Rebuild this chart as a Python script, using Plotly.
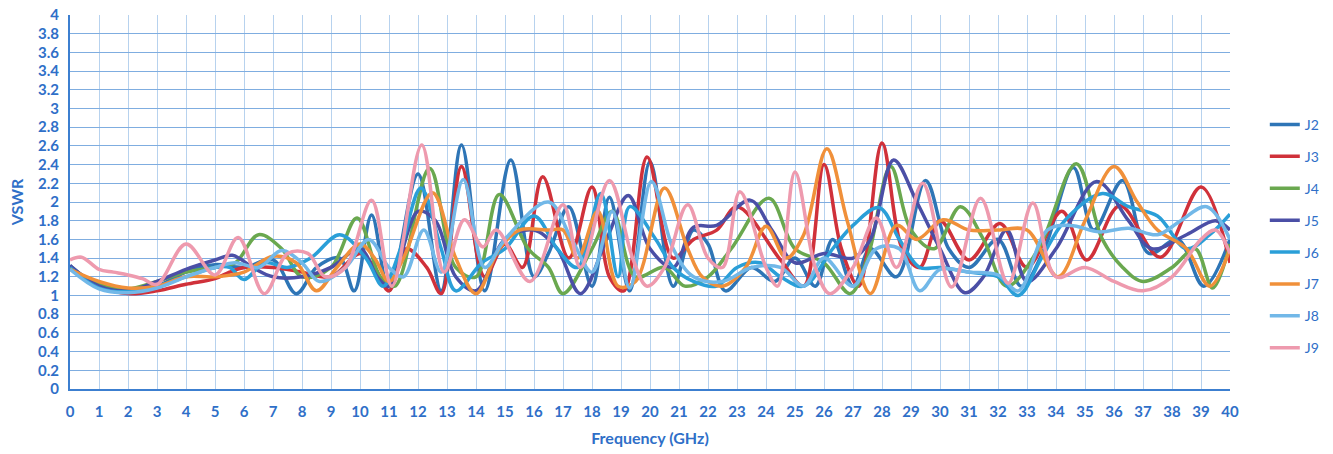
import plotly.graph_objects as go

# ---- data: (frequency GHz, VSWR) key points ----
J2_f = [0,1,2,3,4,5,6,7,7.8,8.5,9.3,9.8,10.4,11,12.0,12.8,13.5,14.3,15.2,16,16.5,17.2,18,18.6,19.3,20.0,20.8,21.5,22,22.6,23.5,24.3,25,25.7,26.3,27,27.6,28.5,29.5,30.3,31,32,32.8,33.6,34.6,35.3,36.3,37.2,38.2,39.1,40]
J2_v = [1.32,1.1,1.03,1.1,1.25,1.33,1.3,1.38,1.02,1.3,1.4,1.05,1.86,1.05,2.3,1.05,2.61,1.05,2.45,1.2,1.45,1.95,1.1,2.05,1.05,2.43,1.1,1.7,1.55,1.05,1.3,1.15,1.4,1.1,1.6,1.1,1.5,1.2,2.23,1.5,1.3,1.6,1.1,1.5,2.37,1.7,2.23,1.45,1.6,1.1,1.6]

J3_f = [0,1,2,3,4,5,5.5,6,7,8,9,10,10.5,11,11.6,12.3,12.8,13.5,14.3,15,15.6,16.3,17.2,18.0,18.6,19.1,19.9,20.8,21.5,22.3,23.0,24.5,25.3,26.0,26.6,27.2,28.0,28.7,29.3,30,31,32.07,33,34.2,35.06,36.2,37.6,39.0,40]
J3_v = [1.3,1.1,1.02,1.05,1.12,1.18,1.25,1.3,1.3,1.25,1.2,1.45,1.3,1.05,1.5,1.3,1.02,2.38,1.2,1.55,1.3,2.27,1.4,2.16,1.2,1.05,2.48,1.4,1.6,1.7,1.95,1.38,1.1,2.4,1.5,1.1,2.63,1.5,1.3,1.8,1.38,1.77,1.3,1.9,1.38,1.96,1.41,2.16,1.35]

J4_f = [0,1,2,3,4,5,5.7,6.5,7.3,8,9,9.9,10.7,11.2,12.4,13.3,14,14.8,15.8,16.5,17,18,18.7,19.5,20.5,21.2,22,22.8,24.1,25,26,26.9,27.5,28.3,29,29.8,30.7,31.5,32.3,33.4,34.7,35.6,36.3,37,38,38.8,39.4,40]
J4_v = [1.3,1.12,1.07,1.15,1.25,1.3,1.35,1.65,1.5,1.2,1.3,1.83,1.2,1.1,2.36,1.3,1.2,2.08,1.5,1.3,1.02,1.5,1.9,1.2,1.3,1.1,1.2,1.5,2.04,1.5,1.35,1.02,1.4,2.38,1.7,1.5,1.95,1.6,1.1,1.5,2.41,1.6,1.3,1.15,1.3,1.5,1.08,1.55]

J5_f = [0,1,2,3,4,5,5.6,6.3,7,8,9,10,10.6,11,12,12.6,13.3,14,15,16,16.8,17.6,18.5,19.25,20,20.8,21.5,22.3,23.45,24.2,25,26,27,27.6,28.4,29.2,30,30.86,31.5,32.3,33,34,35.4,36.5,37.3,38.5,39.5,40]
J5_v = [1.32,1.1,1.05,1.15,1.28,1.38,1.43,1.3,1.2,1.2,1.3,1.5,1.2,1.1,1.9,1.8,1.2,1.05,1.6,1.7,1.5,1.02,1.6,2.07,1.5,1.3,1.73,1.75,2.02,1.7,1.35,1.45,1.4,1.6,2.45,2.0,1.5,1.03,1.2,1.7,1.15,1.5,2.22,1.8,1.5,1.65,1.8,1.7]

J6_f = [0,1,2,3,4,5,5.5,6,6.7,7.5,8.3,9.3,10.2,10.8,11.4,12.1,12.8,13.3,14.2,15,16,16.8,17.5,18.3,18.9,19.3,20.2,20.8,21.5,22.3,23,23.8,24.5,25.3,26.3,27,27.9,28.6,29.3,30,31,32,32.7,33.5,34.3,35.6,36.5,37.5,38.5,39.3,40]
J6_v = [1.3,1.08,1.04,1.1,1.2,1.3,1.3,1.17,1.35,1.3,1.4,1.65,1.4,1.1,1.5,2.15,1.5,1.05,1.35,1.5,1.85,1.5,1.3,2.09,1.2,1.95,1.6,1.3,1.15,1.1,1.3,1.35,1.2,1.1,1.5,1.75,1.94,1.6,1.3,1.3,1.25,1.2,1.0,1.4,1.8,2.09,1.95,1.85,1.5,1.65,1.87]

J7_f = [0,1,2,3,4,5,6,7,7.8,8.5,9.2,10,10.5,11,11.5,12.5,13.3,14,14.8,15.5,16.5,17,17.5,18.2,18.9,19.5,20.5,21.3,21.8,22.5,23.3,24.0,24.7,25.3,26.1,26.8,27.6,28.5,29.2,30.1,31,32,33,34.07,35,36.0,36.8,37.5,38.5,39.3,40]
J7_v = [1.28,1.15,1.08,1.1,1.2,1.2,1.25,1.42,1.35,1.05,1.3,1.55,1.4,1.15,1.4,2.1,1.4,1.02,1.5,1.7,1.7,1.7,1.4,1.9,1.1,1.15,2.15,1.5,1.2,1.1,1.3,1.74,1.4,1.65,2.57,1.8,1.02,1.75,1.6,1.81,1.7,1.7,1.7,1.2,1.8,2.38,2.0,1.7,1.5,1.1,1.5]

J8_f = [0,1,2,3,4,5,5.7,6.5,7.3,8,8.6,9.5,10.3,11,11.5,12.2,12.8,13.56,14.3,15,16.5,17.3,18,18.7,19.3,20.05,20.8,21.5,22.5,23.5,24.5,25.3,26,27,27.8,28.6,29.3,30,31,32,32.7,33.7,34.5,35.5,36.5,37.5,38.3,39.2,40]
J8_v = [1.28,1.07,1.03,1.08,1.2,1.3,1.35,1.3,1.48,1.35,1.15,1.3,1.6,1.3,1.2,1.7,1.25,2.24,1.3,1.6,2.0,1.6,1.25,1.9,1.08,2.22,1.5,1.2,1.15,1.3,1.3,1.1,1.4,1.1,1.5,1.5,1.05,1.28,1.25,1.22,1.05,1.7,1.75,1.68,1.72,1.65,1.8,1.95,1.6]

J9_f = [0,0.4,1,1.5,2,2.5,3,4,5,5.8,6.7,7.5,8.2,8.8,9.5,10.4,11.1,12.13,12.9,13.6,14.24,14.7,15.86,17,17.6,18.6,19.4,19.9,20.5,21.3,22,22.5,23.1,24,24.4,25.0,25.7,26.2,27,27.8,28.5,29.4,30.4,31.4,32.35,33.2,34,35,36,37,38,39,39.5,40]
J9_v = [1.38,1.41,1.28,1.25,1.22,1.18,1.12,1.55,1.22,1.62,1.02,1.45,1.45,1.2,1.3,2.02,1.1,2.61,1.25,1.81,1.52,1.7,1.15,1.97,1.3,2.23,1.4,1.1,1.3,1.97,1.4,1.3,2.11,1.3,1.1,2.32,1.3,1.02,1.3,1.83,1.3,2.2,1.09,2.04,1.13,1.99,1.2,1.3,1.15,1.05,1.2,1.6,1.7,1.45]

names = ["J2", "J3", "J4", "J5", "J6", "J7", "J8", "J9"]
freqs = [J2_f, J3_f, J4_f, J5_f, J6_f, J7_f, J8_f, J9_f]
vals = [J2_v, J3_v, J4_v, J5_v, J6_v, J7_v, J8_v, J9_v]
colors = ["#2E75B6", "#D0313A", "#6AA84F", "#4B4FA6", "#2A9FD8", "#F0903A", "#72B8E8", "#EE9AAE"]

x_ticks = list(range(0, 41))
y_ticks = [round(i * 0.2, 1) for i in range(0, 21)]
y_labels = [("%g" % v) for v in y_ticks]

label_blue = "#2F6FC8"

fig = go.Figure()
for n, f, v, c in zip(names, freqs, vals, colors):
    fig.add_trace(go.Scatter(
        x=f, y=v, name=n, mode="lines",
        line=dict(color=c, width=3.5, shape="spline", smoothing=1.0),
        legendgroup=n,
    ))

fig.update_layout(
    width=1333, height=454,
    margin=dict(l=70, r=103, t=15, b=65, autoexpand=False),
    paper_bgcolor="white", plot_bgcolor="white",
    font=dict(family="Lato, 'Open Sans', sans-serif", color=label_blue),
    showlegend=True,
    legend=dict(
        x=1.030, y=0.749, xanchor="left", yanchor="top",
        font=dict(size=14, color=label_blue),
        tracegroupgap=10.7, traceorder="grouped",
        bgcolor="rgba(0,0,0,0)",
    ),
    xaxis=dict(
        range=[0, 40], tickmode="array", tickvals=x_ticks,
        ticktext=[str(t) for t in x_ticks],
        showgrid=True, gridcolor="#B7D2EE", gridwidth=1,
        showline=True, linecolor="#3C7FD0", linewidth=2,
        zeroline=False, ticks="", ticklabelstandoff=8, automargin=False,
        tickfont=dict(size=15, color=label_blue, weight="bold"),
        title=dict(text="Frequency (GHz)", font=dict(size=16, color=label_blue, weight="bold"), standoff=14),
    ),
    yaxis=dict(
        range=[0, 4], tickmode="array", tickvals=y_ticks, ticktext=y_labels,
        showgrid=True, gridcolor="#7FADE0", gridwidth=1,
        showline=True, linecolor="#3C7FD0", linewidth=2,
        zeroline=False, ticks="", ticklabelstandoff=6, automargin=False,
        tickfont=dict(size=15, color=label_blue, weight="bold"),
        title=dict(text="VSWR", font=dict(size=16, color=label_blue, weight="bold"), standoff=10),
    ),
)

fig.write_html(
    "out.html",
    config={"displayModeBar": False},
    post_script="document.body.style.margin='0';",
)
